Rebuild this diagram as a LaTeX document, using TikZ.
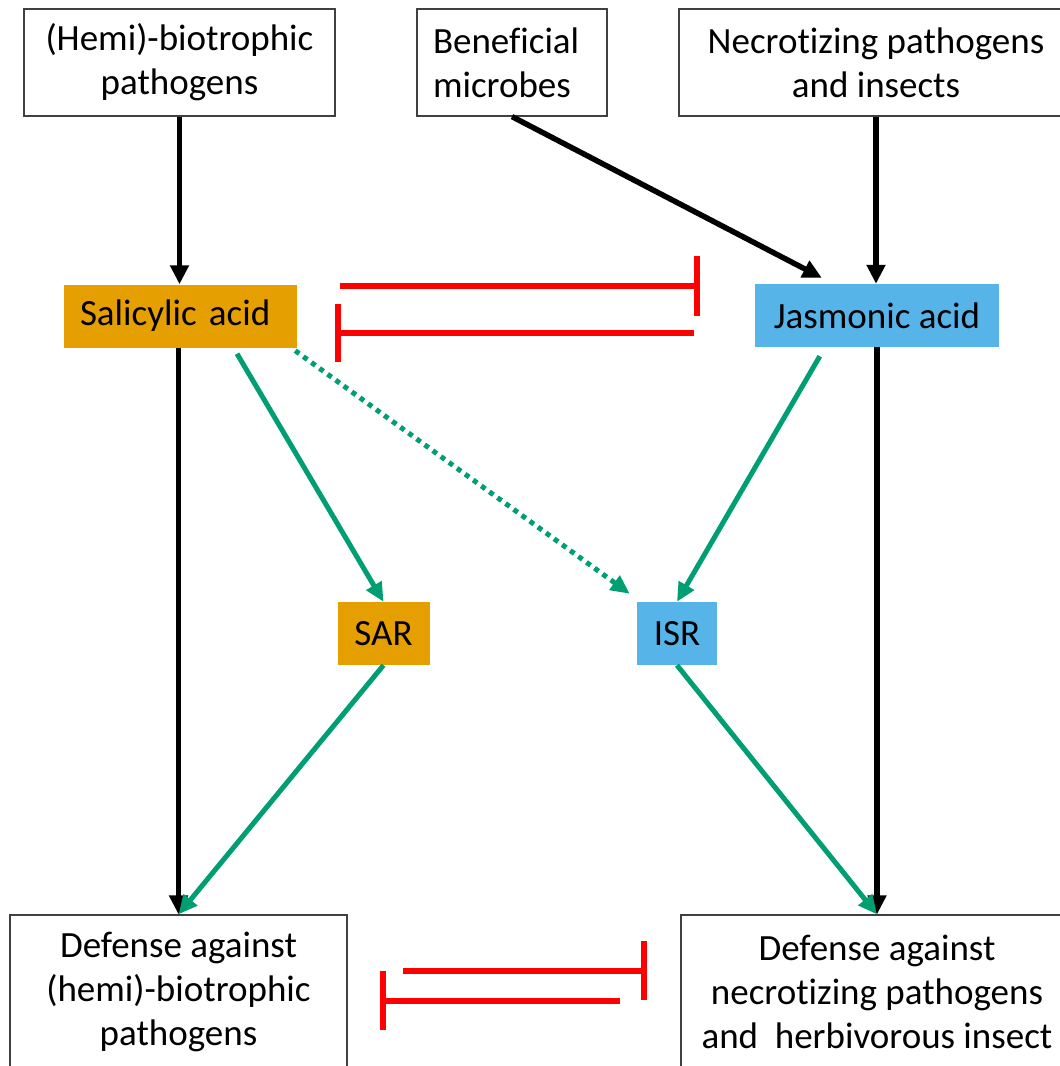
\documentclass[tikz,border=0pt]{standalone}
\usepackage{fontspec}
\setmainfont{Carlito}[Ligatures={NoCommon}]
\usetikzlibrary{arrows.meta}
\definecolor{saorange}{HTML}{E69F00}
\definecolor{jablue}{HTML}{56B4E9}
\definecolor{actgreen}{HTML}{009E73}
\definecolor{inhred}{HTML}{FF0000}
\definecolor{edgegray}{HTML}{404040}

\begin{document}
\begin{tikzpicture}[x=1pt,y=-1pt,
  font=\fontsize{37}{44}\selectfont,
  box/.style={draw=edgegray,line width=1.2pt,fill=white,inner sep=0pt,align=center},
  hormone/.style={inner sep=0pt,minimum height=63pt},
  blk/.style={draw=black,line width=5.5pt,-{Triangle[length=19pt,width=18pt]}},
  grn/.style={draw=actgreen,line width=5pt,-{Triangle[length=19pt,width=17pt]}},
  inh/.style={draw=inhred,line width=6.5pt},
]
\useasboundingbox (0,0) rectangle (1060,1066);
\clip (0,0) rectangle (1060,1066);

% triggers
\node[box,minimum width=311pt,minimum height=107pt] (hemi) at (179.5,62.5) {(Hemi)-biotrophic\\pathogens};
\node[box,minimum width=190pt,minimum height=107pt,align=left,text width=158pt] (ben) at (512,62.5) {Beneficial\\microbes};
\node[box,minimum width=394pt,minimum height=107pt] (nec) at (876,62.5) {Necrotizing pathogens\\and insects};

% hormones
\node[hormone,fill=saorange,inner xsep=16pt,text width=201pt,align=left] (sa) at (180.5,316) {Salicylic acid};
\node[hormone,fill=jablue,minimum width=244pt] (ja) at (877,315.5) {Jasmonic acid};

% systemic resistance
\node[hormone,fill=saorange,minimum width=92pt] (sar) at (383.5,633.5) {SAR};
\node[hormone,fill=jablue,minimum width=80pt] (isr) at (677,633.5) {ISR};

% defence outcomes
\node[box,minimum width=337pt,minimum height=154pt] (defL) at (178.5,992) {Defense against\\(hemi)-biotrophic\\pathogens};
\node[box,minimum width=392pt,minimum height=154pt] (defR) at (877,992) {Defense against\\necrotizing pathogens\\and~ herbivorous insect};

% induction
\draw[blk] (hemi.south) -- (hemi.south |- sa.north);
\draw[blk] (ben.south) -- ([xshift=67pt,yshift=6pt]ja.north west);
\draw[blk] (nec.south) -- (nec.south |- ja.north);
\draw[blk] (sa.south -| defL.north) -- (defL.north);
\draw[blk] (ja.south) -- (ja.south |- defR.north);

\draw[grn] ([xshift=56.5pt,yshift=-6pt]sa.south) -- (sar.north);
\draw[grn,dash pattern=on 5pt off 5pt] ([xshift=-2pt,yshift=-3pt]sa.south east) -- ([xshift=-7pt,yshift=8pt]isr.north west);
\draw[grn] ([xshift=65pt,yshift=-9pt]ja.south west) -- (isr.north);
\draw[grn] (sar.south) -- (defL.north);
\draw[grn] (isr.south) -- (defR.north);

% mutual antagonism
\coordinate (inhA1) at (340,286);
\coordinate (inhA2) at (697,286);
\coordinate (inhB1) at (694,333);
\coordinate (inhB2) at (338,333);
\coordinate (inhC1) at (403,971);
\coordinate (inhC2) at (644,971);
\coordinate (inhD1) at (620,1001);
\coordinate (inhD2) at (383,1001);

\draw[inh] (inhA1) -- (inhA2);
\draw[inh] ([yshift=30pt]inhA2) -- ([yshift=-30pt]inhA2);
\draw[inh] (inhB1) -- (inhB2);
\draw[inh] ([yshift=29pt]inhB2) -- ([yshift=-29pt]inhB2);
\draw[inh] (inhC1) -- (inhC2);
\draw[inh] ([yshift=30pt]inhC2) -- ([yshift=-29pt]inhC2);
\draw[inh] (inhD1) -- (inhD2);
\draw[inh] ([yshift=30pt]inhD2) -- ([yshift=-29pt]inhD2);
\end{tikzpicture}
\end{document}
